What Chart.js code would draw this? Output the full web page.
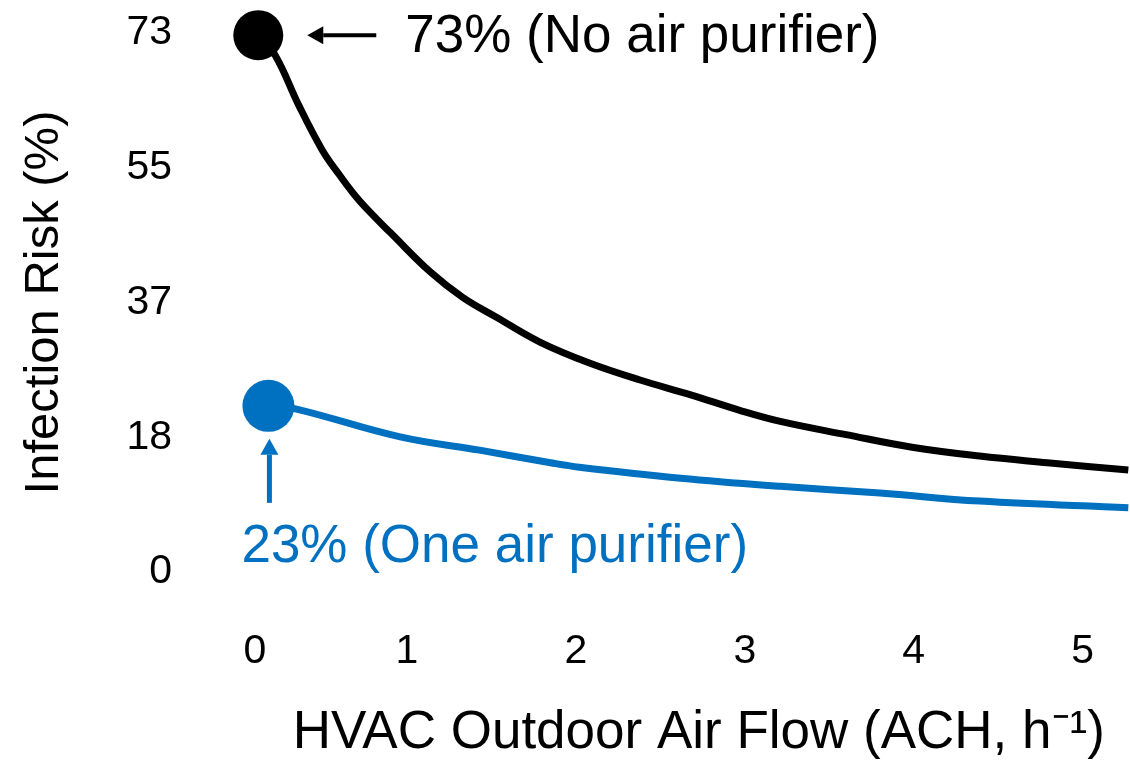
<!DOCTYPE html>
<html>
<head>
<meta charset="utf-8">
<title>Infection Risk vs HVAC Outdoor Air Flow</title>
<script src="https://cdn.jsdelivr.net/npm/chart.js@4.4.0/dist/chart.umd.min.js"></script>
<style>
  body { margin: 0; background: #fff; }
  canvas { display: block; }
</style>
</head>
<body>
<canvas id="riskChart" width="1130" height="760"></canvas>
<script>
// values (x = ACH, y = infection risk %)
const noPurifierX = [0.12, 0.22, 0.36, 0.50, 0.60, 0.70, 0.80, 0.90, 1.14, 1.33, 1.53, 1.79, 2.08, 2.38, 2.68, 2.97, 3.21, 3.60, 3.99, 4.39, 4.79, 5.27];
const noPurifierY = [72.7, 70.0, 63.2, 57.1, 53.8, 50.8, 48.3, 46.0, 40.6, 37.2, 34.5, 31.1, 28.3, 26.0, 24.0, 21.9, 20.4, 18.6, 16.9, 15.7, 14.8, 13.8];
const onePurifierX = [0.18, 0.34, 0.96, 1.43, 1.85, 2.02, 2.62, 3.21, 3.80, 4.39, 5.27];
const onePurifierY = [22.5, 22.1, 18.3, 16.5, 14.8, 14.2, 12.7, 11.6, 10.7, 9.6, 8.7];

const xTickValues = [0.1, 1, 2, 3, 4, 5];
const xTickLabels = ['0', '1', '2', '3', '4', '5'];
const yTickValues = [0, 18.25, 36.5, 54.75, 73];
const yTickLabels = ['0', '18', '37', '55', '73'];

const seriesNames = ['73% (No air purifier)', '23% (One air purifier)'];
const seriesColors = ['#000000', '#0070C0'];

const FONT = '"Liberation Sans", Arial, sans-serif';

function toPoints(xs, ys) {
    return xs.map((x, i) => ({ x: x, y: ys[i] }));
}

function drawArrow(c, x1, y1, x2, y2, color, width) {
    // tail (x1,y1) -> tip (x2,y2)
    const ang = Math.atan2(y2 - y1, x2 - x1);
    const headLen = 16, headHalf = 9;
    const bx = x2 - Math.cos(ang) * headLen;
    const by = y2 - Math.sin(ang) * headLen;
    c.strokeStyle = color;
    c.fillStyle = color;
    c.lineWidth = width;
    c.beginPath();
    c.moveTo(x1, y1);
    c.lineTo(bx, by);
    c.stroke();
    c.beginPath();
    c.moveTo(x2, y2);
    c.lineTo(bx - Math.sin(ang) * headHalf, by + Math.cos(ang) * headHalf);
    c.lineTo(bx + Math.sin(ang) * headHalf, by - Math.cos(ang) * headHalf);
    c.closePath();
    c.fill();
}

const calloutPlugin = {
    id: 'callouts',
    afterDatasetsDraw(chart) {
        const c = chart.ctx;
        const p0 = chart.getDatasetMeta(0).data[0];
        const p1 = chart.getDatasetMeta(1).data[0];
        c.save();
        c.font = '53px ' + FONT;
        c.textBaseline = 'alphabetic';
        c.textAlign = 'left';

        drawArrow(c, p0.x + 118, p0.y, p0.x + 49, p0.y, seriesColors[0], 4);
        c.fillStyle = seriesColors[0];
        c.fillText(seriesNames[0], p0.x + 147, p0.y + 17);

        drawArrow(c, p1.x + 1, p1.y + 97, p1.x + 1, p1.y + 33, seriesColors[1], 5);
        c.fillStyle = seriesColors[1];
        c.fillText(seriesNames[1], p1.x - 27, p1.y + 156);
        c.restore();
    }
};

const ctx = document.getElementById('riskChart').getContext('2d');

new Chart(ctx, {
    type: 'line',
    data: {
        datasets: [
            {
                label: seriesNames[0],
                data: toPoints(noPurifierX, noPurifierY),
                borderColor: seriesColors[0],
                backgroundColor: seriesColors[0],
                borderWidth: 7,
                tension: 0.4,
                pointRadius: (c) => c.dataIndex === 0 ? 25 : 0,
                pointBorderWidth: 0,
                clip: false
            },
            {
                label: seriesNames[1],
                data: toPoints(onePurifierX, onePurifierY),
                borderColor: seriesColors[1],
                backgroundColor: seriesColors[1],
                borderWidth: 7,
                tension: 0.4,
                pointRadius: (c) => c.dataIndex === 0 ? 26 : 0,
                pointBorderWidth: 0,
                clip: false
            }
        ]
    },
    plugins: [calloutPlugin],
    options: {
        responsive: false,
        animation: false,
        layout: { autoPadding: false, padding: { top: 33, right: 0, left: 0, bottom: 0 } },
        plugins: {
            legend: { display: false },
            tooltip: { enabled: false }
        },
        scales: {
            x: {
                type: 'linear',
                min: 0,
                max: 5.28,
                grid: { display: false, drawTicks: false },
                border: { display: false },
                afterBuildTicks: (scale) => {
                    scale.ticks = xTickValues.map(v => ({ value: v }));
                },
                afterFit: (scale) => {
                    scale.height = 188;
                },
                ticks: {
                    color: '#000',
                    // tall line height pushes the labels down without adding side padding
                    font: { family: FONT, size: 41, lineHeight: 3.9 },
                    padding: 0,
                    maxRotation: 0,
                    callback: (value, i) => xTickLabels[i]
                },
                title: {
                    display: true,
                    // leading spaces nudge the centred title a little to the right
                    text: '  HVAC Outdoor Air Flow (ACH, h\u207B\u00B9)',
                    color: '#000',
                    font: { family: FONT, size: 53, lineHeight: 1 },
                    padding: { top: 0, bottom: 0 }
                }
            },
            y: {
                min: 0,
                max: 73,
                grid: { display: false, drawTicks: false },
                border: { display: false },
                afterBuildTicks: (scale) => {
                    scale.ticks = yTickValues.map(v => ({ value: v }));
                },
                afterFit: (scale) => {
                    scale.width = 238;
                    scale.paddingTop = 0;
                    scale.paddingBottom = 0;
                },
                ticks: {
                    color: '#000',
                    font: { family: FONT, size: 41 },
                    padding: 66,
                    callback: (value, i) => yTickLabels[i]
                },
                title: {
                    display: true,
                    text: 'Infection Risk (%)',
                    color: '#000',
                    font: { family: FONT, size: 49, lineHeight: 1 },
                    padding: { top: 20, bottom: 0 }
                }
            }
        }
    }
});
</script>
</body>
</html>
